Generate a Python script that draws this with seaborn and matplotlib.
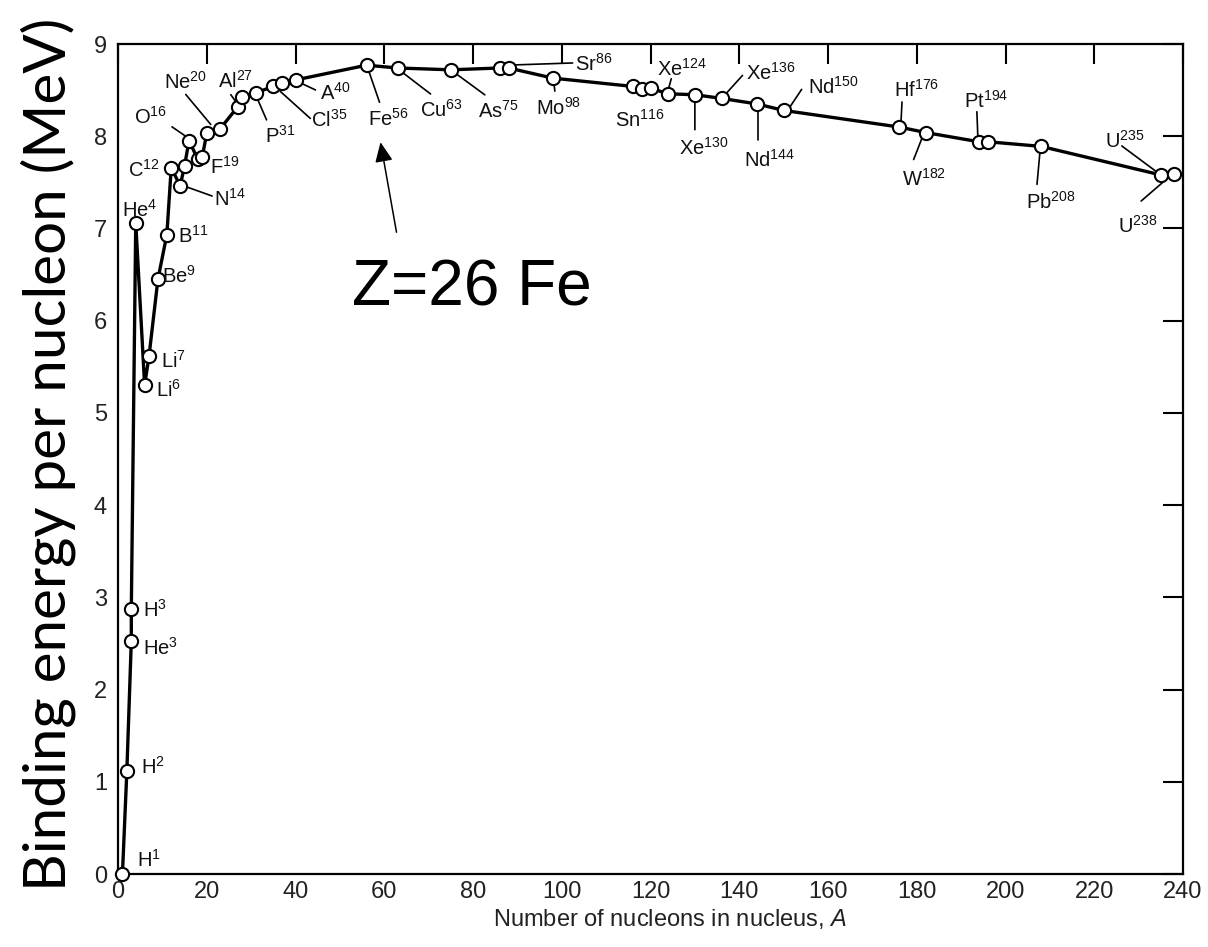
import matplotlib
matplotlib.use("Agg")
import matplotlib.pyplot as plt
from matplotlib.transforms import offset_copy
import pandas as pd
import seaborn as sns

# Nuclides: element symbol, mass number A, binding energy per nucleon (MeV)
symbols = ["H", "H", "He", "H", "He", "Li", "Li", "Be", "B", "C", "N", "N", "O", "O",
           "F", "Ne", "Na", "Al", "Si", "P", "Cl", "Cl", "A", "Fe", "Cu", "As", "Sr",
           "Sr", "Mo", "Sn", "Sn", "Sn", "Xe", "Xe", "Xe", "Nd", "Nd", "Hf", "W", "Pt",
           "Pt", "Pb", "U", "U"]
mass_numbers = [1, 2, 3, 3, 4, 6, 7, 9, 11, 12, 14, 15, 16, 18,
                19, 20, 23, 27, 28, 31, 35, 37, 40, 56, 63, 75, 86,
                88, 98, 116, 118, 120, 124, 130, 136, 144, 150, 176, 182, 194,
                196, 208, 235, 238]
binding_energy = [0.00, 1.12, 2.53, 2.87, 7.06, 5.30, 5.62, 6.45, 6.93, 7.66, 7.46, 7.68, 7.95, 7.75,
                  7.78, 8.03, 8.08, 8.32, 8.43, 8.47, 8.54, 8.58, 8.61, 8.77, 8.74, 8.72, 8.74,
                  8.74, 8.63, 8.54, 8.51, 8.52, 8.46, 8.45, 8.41, 8.35, 8.28, 8.10, 8.04, 7.94,
                  7.94, 7.89, 7.58, 7.59]

x_ticks = list(range(0, 241, 20))
y_ticks = list(range(0, 10))

# Label placement for the named nuclides: text offset (px) and optional leader line (px)
label_layout = {
    "H1": ((15, 7), None),
    "H2": ((14, -3), None),
    "H3": ((12, -7), None),
    "He3": ((12, -14), None),
    "He4": ((-14, 6), None),
    "Li6": ((11, -12), None),
    "Li7": ((12, -12), None),
    "Be9": ((4, -4), None),
    "B11": ((11, -8), None),
    "C12": ((-43, -9), None),
    "N14": ((34, -20), ((32, -10), (4, 0))),
    "O16": ((-55, 17), ((-17, 14), (-1, 3))),
    "F19": ((8, -17), None),
    "Ne20": ((-43, 45), ((-21, 39), (4, 9))),
    "Al27": ((-20, 19), ((-7, 12), (-2, 5))),
    "P31": ((9, -50), ((11, -27), (1, -4))),
    "Cl35": ((38, -40), ((37, -32), (7, -5))),
    "A40": ((25, -20), ((20, -10), (3, -2))),
    "Fe56": ((1, -61), ((13, -37), (2, -5))),
    "Cu63": ((22, -49), ((33, -26), (3, -3))),
    "As75": ((27, -48), ((34, -25), (4, -3))),
    "Sr86": ((75, -3), ((73, 5), (13, 3))),
    "Mo98": ((-17, -37), ((2, -13), (1, -5))),
    "Sn116": ((-18, -40), None),
    "Xe124": ((-11, 18), ((3, 15), (0, 4))),
    "Xe130": ((-16, -60), ((0, -35), (0, -5))),
    "Xe136": ((24, 19), ((21, 23), (2, 2))),
    "Nd144": ((-13, -63), ((1, -36), (1, -4))),
    "Nd150": ((24, 17), ((18, 21), (6, 3))),
    "Hf176": ((-5, 30), ((3, 25), (2, 5))),
    "W182": ((-24, -53), ((-12, -27), (-3, -4))),
    "Pt194": ((-15, 34), ((-2, 30), (-1, 4))),
    "Pb208": ((-15, -62), ((-4, -38), (-1, -5))),
    "U235": ((-56, 27), ((-39, 29), (-4, 3))),
    "U238": ((-56, -59), ((-33, -27), (-4, -2))),
}

sns.set_theme(style="white")
plt.rcParams["font.family"] = ["Liberation Sans", "DejaVu Sans"]
plt.rcParams["mathtext.fontset"] = "custom"
plt.rcParams["mathtext.rm"] = "Liberation Sans"
plt.rcParams["mathtext.it"] = "Liberation Sans:italic"

df = pd.DataFrame({"symbol": symbols, "A": mass_numbers, "BE": binding_energy})
df["name"] = df["symbol"] + df["A"].astype(str)

fig = plt.figure(figsize=(12.08, 9.47), dpi=100)
ax = fig.add_axes([118 / 1208, 1 - 874 / 947, (1183 - 118) / 1208, (874 - 44) / 947])

sns.lineplot(data=df, x="A", y="BE", sort=False, estimator=None, ax=ax,
             color="black", linewidth=2.4, marker="o", markersize=9.5,
             markerfacecolor="white", markeredgecolor="black", markeredgewidth=1.5,
             clip_on=False, zorder=3)

ax.set_xlim(0, 240)
ax.set_ylim(0, 9)
ax.set_xticks(x_ticks)
ax.set_yticks(y_ticks)
ax.set_xlabel("")
ax.set_ylabel("")
for side in ["left", "right", "top", "bottom"]:
    ax.spines[side].set_visible(True)
    ax.spines[side].set_color("black")
    ax.spines[side].set_linewidth(1.6)
ax.tick_params(direction="in", length=14.5, width=1.5, color="black",
               top=True, right=True, labeltop=False, labelright=False,
               labelsize=17, labelcolor="#222222")
ax.tick_params(axis="x", pad=5)
ax.tick_params(axis="y", pad=8)

# Element labels with mass-number superscripts and leader lines
for _, row in df.iterrows():
    if row["name"] not in label_layout:
        continue
    (tx, ty), leader = label_layout[row["name"]]
    ax.annotate(f"{row['symbol']}$^{{{row['A']}}}$", xy=(row["A"], row["BE"]),
                xytext=(tx, ty), textcoords="offset pixels", ha="left", va="baseline",
                fontsize=14.5, color="#111111", zorder=4, annotation_clip=False)
    if leader is not None:
        (x0, y0), (x1, y1) = leader
        end_tr = offset_copy(ax.transData, fig=fig, x=x1, y=y1, units="dots")
        ax.annotate("", xy=(row["A"], row["BE"]), xycoords=end_tr,
                    xytext=(x0 - x1, y0 - y1), textcoords="offset pixels",
                    arrowprops=dict(arrowstyle="-", shrinkA=0, shrinkB=0,
                                    color="black", lw=1.2), zorder=2)

# Arrow and caption pointing at iron
fe = df[df["name"] == "Fe56"].iloc[0]
tip_tr = offset_copy(ax.transData, fig=fig, x=14, y=-77, units="dots")
ax.annotate("", xy=(fe["A"], fe["BE"]), xycoords=tip_tr,
            xytext=(16, -90), textcoords="offset pixels",
            arrowprops=dict(arrowstyle="-|>,head_length=0.6,head_width=0.27",
                            mutation_scale=20, shrinkA=0, shrinkB=0,
                            color="black", lw=1.1))
ax.annotate("Z=26 Fe", xy=(fe["A"], fe["BE"]), xytext=(-15, -240),
            textcoords="offset pixels", ha="left", va="baseline",
            fontsize=46, color="black")

fig.text(0.5546, 1 - 919 / 947, "Number of nucleons in nucleus, $A$",
         ha="center", va="center", fontsize=17, color="#222222")
fig.text(48 / 1208, 1 - 454 / 947, "Binding energy per nucleon (MeV)",
         rotation=90, ha="center", va="center", fontsize=42,
         family=["Lato", "DejaVu Sans"], color="black")

fig.savefig("out.png", dpi=100)
